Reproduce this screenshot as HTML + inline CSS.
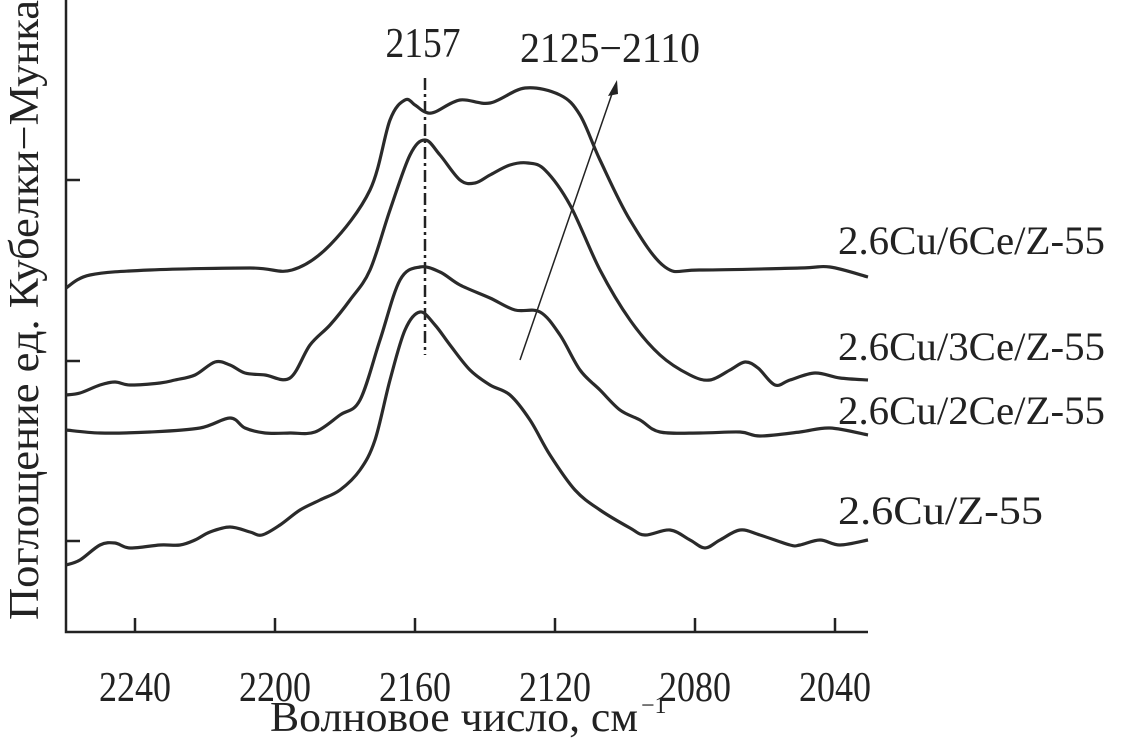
<!DOCTYPE html>
<html><head><meta charset="utf-8"><style>
body{margin:0;background:#fff}
svg text{font-family:"Liberation Serif",serif;fill:#222}
</style></head><body>
<svg id="s" width="1133" height="742" viewBox="0 0 1133 742" xmlns="http://www.w3.org/2000/svg">
<g stroke="#222" stroke-width="2.5" fill="none">
<path d="M66 0 V632 H868"/>
<path d="M66 180 H80 M66 361 H80 M66 541 H80"/>
<path d="M135 632 V618 M275 632 V618 M415 632 V618 M555 632 V618 M695 632 V618 M835 632 V618"/>
</g>
<g font-size="42" text-anchor="middle">
<text x="135" y="701" textLength="72" lengthAdjust="spacingAndGlyphs">2240</text><text x="275" y="701" textLength="72" lengthAdjust="spacingAndGlyphs">2200</text><text x="415" y="701" textLength="72" lengthAdjust="spacingAndGlyphs">2160</text>
<text x="555" y="701" textLength="72" lengthAdjust="spacingAndGlyphs">2120</text><text x="695" y="701" textLength="72" lengthAdjust="spacingAndGlyphs">2080</text><text x="835" y="701" textLength="72" lengthAdjust="spacingAndGlyphs">2040</text>
<text x="270" y="731" text-anchor="start" textLength="368" lengthAdjust="spacingAndGlyphs">Волновое число, см</text><text x="641" y="713" font-size="24" text-anchor="start">−1</text>
<text transform="translate(38,310) rotate(-90)" textLength="620" lengthAdjust="spacingAndGlyphs">Поглощение ед. Кубелки−Мунка</text>
<text x="423" y="57" textLength="75" lengthAdjust="spacingAndGlyphs">2157</text>
<text x="610" y="62" textLength="180" lengthAdjust="spacingAndGlyphs">2125−2110</text>
</g>
<g font-size="40">
<text x="838" y="254" textLength="267" lengthAdjust="spacingAndGlyphs">2.6Cu/6Ce/Z-55</text>
<text x="838" y="360" textLength="267" lengthAdjust="spacingAndGlyphs">2.6Cu/3Ce/Z-55</text>
<text x="838" y="424" textLength="267" lengthAdjust="spacingAndGlyphs">2.6Cu/2Ce/Z-55</text>
<text x="838" y="524" textLength="205" lengthAdjust="spacingAndGlyphs">2.6Cu/Z-55</text>
</g>
<path d="M425 78 V355" stroke="#222" stroke-width="2.5" stroke-dasharray="12 4 3 4" fill="none"/>
<path d="M520 360 L614 88" stroke="#222" stroke-width="1.5" fill="none"/>
<path d="M617 80 L608 96 L618 94 Z" fill="#222"/>
<g id="curves" stroke="#2a2a2a" stroke-width="3.2" fill="none"></g>
</svg>
<script>
var C=[
[[66,288],[90,275],[150,270],[250,268],[292,270],[330,245],[370,190],[390,120],[405,100],[415,105],[425,112],[435,112],[460,100],[490,103],[525,88],[560,95],[580,115],[600,160],[630,220],[665,267],[700,270],[800,268],[830,267],[868,277]],
[[66,395],[80,393],[100,385],[115,382],[130,385],[160,383],[175,380],[195,375],[215,362],[230,365],[245,373],[265,375],[290,378],[310,345],[330,325],[350,300],[370,270],[390,210],[410,155],[425,140],[440,155],[460,180],[475,183],[490,175],[510,165],[528,163],[545,170],[570,205],[600,270],[630,320],[660,355],[690,375],[710,380],[730,370],[745,362],[758,368],[775,385],[790,380],[815,373],[840,378],[868,380]],
[[66,430],[100,433],[150,432],[200,428],[230,418],[245,428],[265,433],[290,433],[315,432],[340,415],[360,400],[380,340],[400,280],[420,267],[440,272],[460,285],[490,298],[515,310],[540,312],[560,335],[580,370],[600,390],[620,410],[640,420],[660,432],[700,433],[740,432],[760,436],[800,432],[830,428],[868,435]],
[[66,565],[80,560],[100,545],[115,543],[130,548],[160,545],[180,545],[195,540],[210,532],[230,527],[250,532],[262,535],[280,525],[300,510],[320,500],[340,490],[360,470],[375,440],[390,380],[405,330],[420,312],[435,325],[450,345],[470,370],[490,385],[510,395],[530,420],[550,455],[575,490],[600,510],[630,528],[645,535],[670,530],[690,540],[705,548],[720,540],[740,530],[760,535],[790,545],[800,545],[820,540],[840,545],[868,540]]];
var g=document.getElementById('curves');
C.forEach(function(p){var d='M'+p[0][0]+' '+p[0][1];
for(var i=0;i<p.length-1;i++){var a=p[Math.max(i-1,0)],b=p[i],c=p[i+1],e=p[Math.min(i+2,p.length-1)];
d+=' C'+(b[0]+(c[0]-a[0])/6)+' '+(b[1]+(c[1]-a[1])/6)+' '+(c[0]-(e[0]-b[0])/6)+' '+(c[1]-(e[1]-b[1])/6)+' '+c[0]+' '+c[1];}
var el=document.createElementNS('http://www.w3.org/2000/svg','path');el.setAttribute('d',d);g.appendChild(el);});
</script>
</body></html>
